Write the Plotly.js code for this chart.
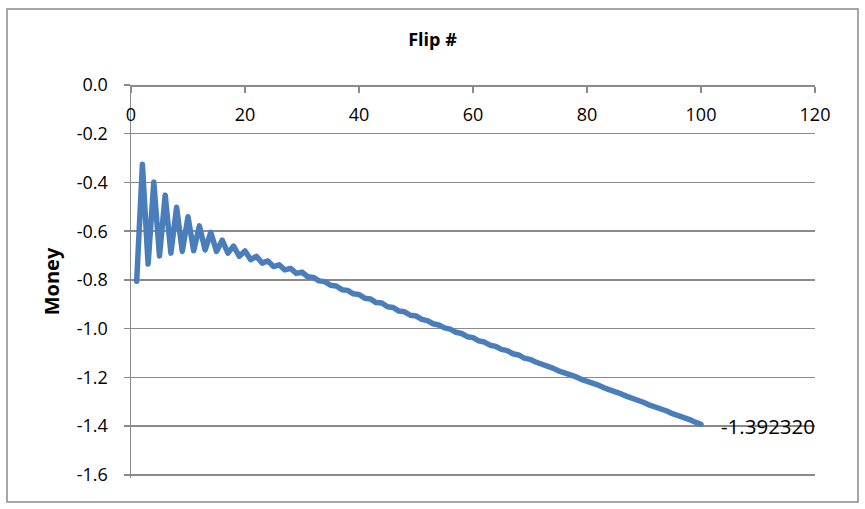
<!DOCTYPE html>
<html>
<head>
<meta charset="utf-8">
<script src="https://cdn.plot.ly/plotly-3.0.1.min.js"></script>
<style>
  html, body { margin: 0; padding: 0; background: #ffffff; }
  #chart { width: 865px; height: 509px; }
  #chart path.js-line { stroke-linejoin: round !important; stroke-linecap: round !important; }
</style>
</head>
<body>
<div id="chart"></div>
<script>
// Flip number (x) and money (y)
const flips = [
  1, 2, 3, 4, 5, 6, 7, 8, 9, 10,
  11, 12, 13, 14, 15, 16, 17, 18, 19, 20,
  21, 22, 23, 24, 25, 26, 27, 28, 29, 30,
  31, 32, 33, 34, 35, 36, 37, 38, 39, 40,
  41, 42, 43, 44, 45, 46, 47, 48, 49, 50,
  51, 52, 53, 54, 55, 56, 57, 58, 59, 60,
  61, 62, 63, 64, 65, 66, 67, 68, 69, 70,
  71, 72, 73, 74, 75, 76, 77, 78, 79, 80,
  81, 82, 83, 84, 85, 86, 87, 88, 89, 90,
  91, 92, 93, 94, 95, 96, 97, 98, 99, 100
];
const money = [
  -0.805, -0.325, -0.735, -0.398, -0.702, -0.452, -0.690, -0.502, -0.683, -0.541,
  -0.680, -0.578, -0.677, -0.605, -0.683, -0.637, -0.690, -0.661, -0.703, -0.681,
  -0.717, -0.703, -0.731, -0.722, -0.745, -0.738, -0.759, -0.753, -0.773, -0.768,
  -0.787, -0.790, -0.804, -0.807, -0.822, -0.825, -0.840, -0.843, -0.857, -0.860,
  -0.875, -0.878, -0.893, -0.895, -0.910, -0.913, -0.928, -0.931, -0.945, -0.948,
  -0.962, -0.967, -0.980, -0.985, -0.997, -1.002, -1.015, -1.020, -1.033, -1.037,
  -1.050, -1.055, -1.068, -1.073, -1.085, -1.090, -1.103, -1.108, -1.121, -1.126,
  -1.137, -1.144, -1.155, -1.162, -1.173, -1.180, -1.190, -1.197, -1.208, -1.215,
  -1.226, -1.232, -1.243, -1.250, -1.261, -1.268, -1.278, -1.285, -1.296, -1.303,
  -1.314, -1.321, -1.331, -1.338, -1.349, -1.356, -1.366, -1.373, -1.384, -1.39232
];
const chartTitle = "Flip #";
const yTitle = "Money";
const lastLabel = "-1.392320";
const xTicks = [0, 20, 40, 60, 80, 100, 120];
const yTicks = [0.0, -0.2, -0.4, -0.6, -0.8, -1.0, -1.2, -1.4, -1.6];

const FONT = "Open Sans, Lato, Liberation Sans, sans-serif";
const GRID = "#8a8a8a";

const trace = {
  x: flips,
  y: money,
  type: "scatter",
  mode: "lines",
  line: { color: "#4a7ebb", width: 5.5 },
  hoverinfo: "x+y"
};

const layout = {
  width: 865,
  height: 509,
  margin: { l: 131, r: 50, t: 85, b: 31, pad: 0 },
  paper_bgcolor: "#ffffff",
  plot_bgcolor: "#ffffff",
  showlegend: false,
  font: { family: FONT, color: "#000000", size: 18 },
  title: {
    text: chartTitle,
    font: { family: FONT, size: 18, color: "#000000", weight: "bold" },
    x: 0.5, xref: "container", xanchor: "center",
    y: 1 - 40 / 509, yref: "container", yanchor: "middle"
  },
  xaxis: {
    range: [0, 120],
    tickvals: xTicks,
    ticktext: xTicks.map(String),
    anchor: "free",
    position: 1,
    side: "bottom",
    mirror: false,
    showline: true, linecolor: GRID, linewidth: 1.5,
    ticks: "outside", ticklen: 6, tickwidth: 1.5, tickcolor: GRID,
    ticklabelstandoff: 7,
    showgrid: false, zeroline: false,
    tickfont: { family: FONT, size: 18, color: "#000000" },
    automargin: false, fixedrange: true
  },
  yaxis: {
    range: [-1.613, 0],
    tickvals: yTicks,
    ticktext: yTicks.map(v => v.toFixed(1)),
    showline: true, linecolor: GRID, linewidth: 1.5,
    ticks: "outside", ticklen: 6, tickwidth: 1.5, tickcolor: GRID,
    ticklabelstandoff: 12,
    showgrid: true, gridcolor: GRID, gridwidth: 1.5,
    zeroline: false,
    tickfont: { family: FONT, size: 18, color: "#000000" },
    title: {
      text: yTitle,
      font: { family: FONT, size: 20, color: "#000000", weight: "bold" },
      standoff: 12
    },
    automargin: false, fixedrange: true
  },
  annotations: [{
    x: flips[flips.length - 1],
    y: money[money.length - 1],
    xref: "x", yref: "y",
    text: lastLabel,
    showarrow: false,
    xanchor: "left", yanchor: "middle",
    xshift: 18, yshift: -2,
    font: { family: FONT, size: 20.5, color: "#000000" }
  }],
  shapes: [{
    type: "rect", xref: "paper", yref: "paper",
    x0: (7 - 131) / 684, x1: (858 - 131) / 684,
    y0: (478 - 502) / 393, y1: (478 - 9) / 393,
    line: { color: "#8a8a8a", width: 1.5 },
    fillcolor: "rgba(0,0,0,0)",
    layer: "below"
  }]
};

Plotly.newPlot("chart", [trace], layout, { displayModeBar: false, staticPlot: true });
</script>
</body>
</html>
